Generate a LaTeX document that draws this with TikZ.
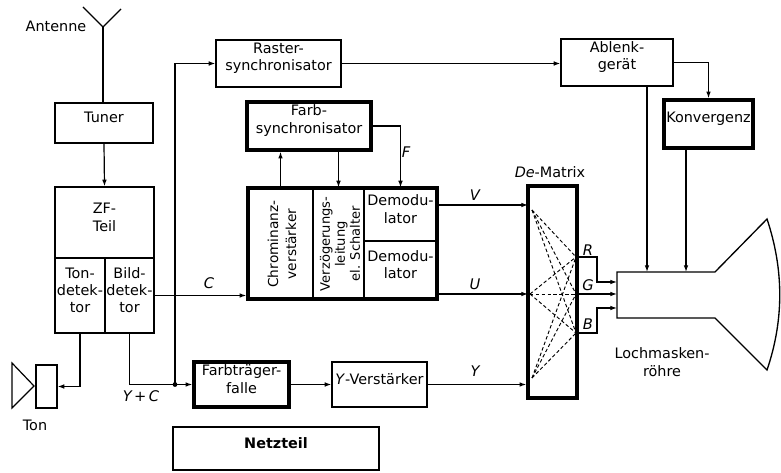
\documentclass[tikz,border=0pt]{standalone}
\usepackage{fontspec}
\setmainfont{DejaVu Sans}
\usetikzlibrary{arrows.meta,fit}
\begin{document}
\begin{tikzpicture}[x=0.75pt,y=-0.75pt,
  every node/.style={font=\fontsize{10.8}{13}\selectfont, inner sep=0pt, align=center},
  box/.style={draw, line width=0.9pt},
  tbox/.style={draw, line width=2.6pt},
  conn/.style={line width=0.9pt},
  arr/.style={conn, -{Latex[length=5pt,width=3.5pt]}},
  lab/.style={font=\fontsize{11}{13}\selectfont\itshape},
  rot/.style={rotate=90, font=\fontsize{10.3}{13.5}\selectfont},
  rotb/.style={rotate=90, font=\fontsize{9.8}{11.3}\selectfont},
  dline/.style={line width=0.7pt, dash pattern=on 2.6pt off 1.8pt}]
\useasboundingbox (0,0) rectangle (781,473);

% boxes
\node[box, fit={(55,103)(153,143)}] (tuner) {Tuner};
\node[box, fit={(55,187)(154,258)}] (zf) {ZF-\\Teil};
\node[box, fit={(55,258)(105,333)}] (tondet) {Ton-\\detek-\\tor};
\node[box, fit={(105,258)(154,333)}] (bilddet) {Bild-\\detek-\\tor};
\node[box, fit={(216,40)(341,87)}] (raster) {Raster-\\synchronisator};
\node[box, fit={(561,39)(673,86)}] (ablenk) {Ablenk-\\gerät};
\node[tbox, fit={(664,100)(753,148)}] (konv) {Konvergenz};
\node[tbox, fit={(247,102)(371,150)}] (fsync) {Farb-\\synchronisator};
\node[box, fit={(248,188)(313,299)}] (chroma) {};
\node[rot] (chromat) at (282,244) {Chrominanz-\\verstärker};
\node[box, fit={(313,188)(364,299)}] (verz) {};
\node[rotb] (verzt) at (340,244) {Verzögerungs-\\leitung\\el. Schalter};
\node[box, fit={(364,188)(437,241)}] (demod1) {Demodu-\\lator};
\node[box, fit={(364,241)(437,299)}] (demod2) {Demodu-\\lator};
\node[tbox, fit={(248,188)(437,299)}] (decoder) {};
\node[tbox, fit={(194,362)(289,407)}] (ftf) {Farbträger-\\falle};
\node[box, fit={(332,362)(427,407)}] (yv) {\textit{Y}-Verstärker};
\node[box, fit={(173,427)(379,470)}] (netz) {\bfseries Netzteil};
\node[tbox, fit={(528,186)(577,398)}] (demat) {};
\node (dematl) at (550,172) {\textit{De}-Matrix};

% speaker
\node[box, fit={(36,365)(57,408)}] (spk) {};
\draw[conn] (12,363) -- (34,386) -- (12,408) -- cycle;
\node (ton) at (35,425) {Ton};

% antenna
\coordinate (ant) at (103,27);
\coordinate (antL) at (83,7);
\coordinate (antR) at (121,9);
\draw[conn] (antL) -- (ant) -- (antR);
\draw[conn] (ant) -- (ant |- tuner.north);
\node (antt) at (56,26) {Antenne};

% tube
\draw[line width=1pt] (617,272) -- (715,272) -- (767,219) .. controls (784,270) and (784,320) .. (767,370) -- (715,318) -- (617,318) -- cycle;
\coordinate (tR) at (617,282);
\coordinate (tG) at (617,294);
\coordinate (tB) at (617,308);
\coordinate (tA) at (647,272);
\coordinate (tK) at (686,272);
\node (roehre) at (662,362) {Lochmasken-\\röhre};

% connectors
\draw[arr] (tuner.south) -- (zf.north);
\draw[arr] (tondet.south) |- (spk.east);
\coordinate (junc) at (175,384.5);
\draw[arr] (bilddet.south) |- (ftf.west);
\fill (junc) circle (1.8pt);
\draw[arr] (junc) |- (raster.west);
\draw[arr] (bilddet.east) -- (bilddet.east -| decoder.west);
\node[lab] (cl) at (209,283) {C};
\node[lab] (ycl) at (141,396) {Y\,+\,C};
\draw[arr] (raster.east) -- (raster.east -| ablenk.west);
\draw[arr] (ablenk.east) -| (konv.north);
\draw[arr] (ablenk.south -| tA) -- (tA);
\draw[arr] (konv.south -| tK) -- (tK);
\draw[arr] (chroma.north) -- (chroma.north |- fsync.south);
\draw[arr] (verz.north |- fsync.south) -- (verz.north);
\draw[arr] (fsync.east) -| (demod1.north);
\node[lab] (fl) at (406,152) {F};

\coordinate (vl) at (528,205);
\coordinate (ul) at (528,294);
\draw[arr] (demod1.east |- vl) -- (vl);
\draw[arr] (demod2.east |- ul) -- (ul);
\draw[arr] (ftf.east) -- (yv.west);
\draw[arr] (yv.east) -- (yv.east -| demat.west);
\node[lab] (vlab) at (475,195) {V};
\node[lab] (ulab) at (475,284) {U};
\node[lab] (ylab) at (475,371) {Y};

% matrix dashed lines
\coordinate (vi) at (532,210);
\coordinate (ui) at (530,294);
\coordinate (yi) at (532,378);
\coordinate (ro) at (576,257);
\coordinate (go) at (576,294);
\coordinate (bo) at (576,333);
\foreach \a in {vi,ui,yi} \foreach \b in {ro,go,bo} \draw[dline] (\a) -- (\b);

\draw[arr] (ro) -- ++(21,0) |- (tR);
\draw[arr] (go) -- (tG);
\draw[arr] (bo) -- ++(21,0) |- (tB);
\node[lab] (rlab) at (588,250) {R};
\node[lab] (glab) at (588,285) {G};
\node[lab] (blab) at (588,324) {B};
\end{tikzpicture}
\end{document}
